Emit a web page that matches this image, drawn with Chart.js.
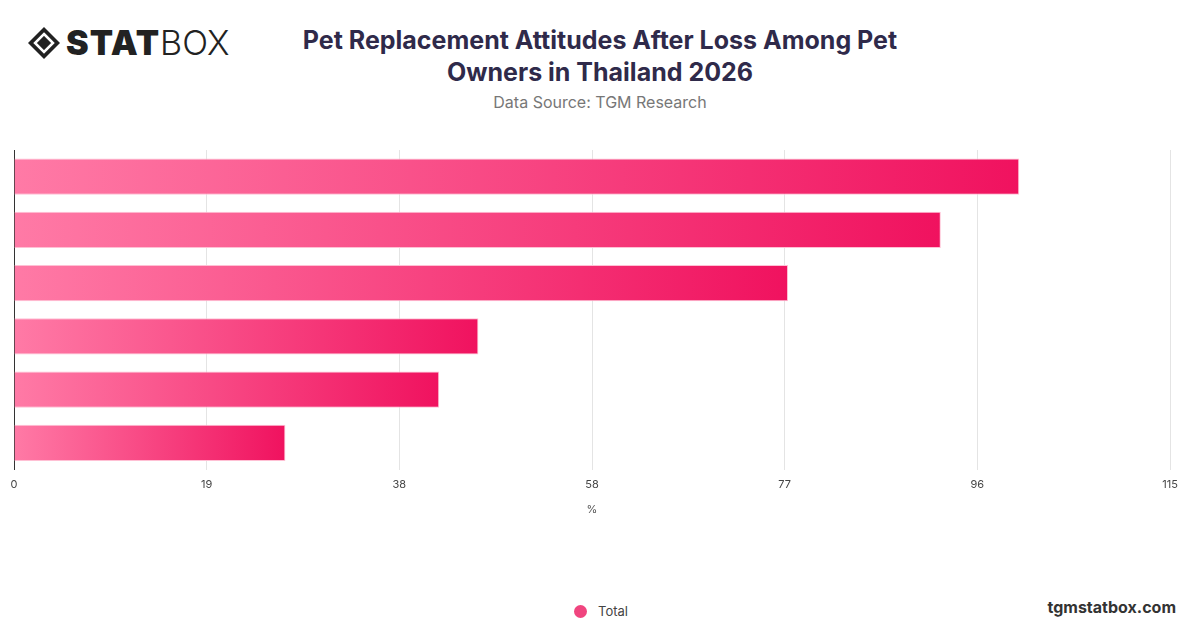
<!DOCTYPE html>
<html>
<head>
<meta charset="utf-8">
<script src="https://cdn.jsdelivr.net/npm/chart.js@4/dist/chart.umd.min.js"></script>
<style>
  body { margin: 0; width: 1200px; height: 628px; background: #fff; font-family: Inter, "Noto Sans", sans-serif; position: relative; overflow: hidden; }
  .logo { position: absolute; left: 26px; top: 22px; display: flex; align-items: center; color: #222; }
  .logo .b { font-weight: 900; font-size: 34px; letter-spacing: 1px; }
  .logo .l { font-weight: 300; font-size: 34px; }
  .title { position: absolute; left: 290px; width: 620px; top: 24px; text-align: center; font-size: 25px; font-weight: 700; color: #2f2a4a; line-height: 32px; }
  .src { position: absolute; left: 0; width: 1200px; top: 92px; text-align: center; font-size: 16px; color: #777; }
  #wrap { position: absolute; left: 0; top: 140px; width: 1200px; height: 380px; }
  .legend { position: absolute; top: 603px; left: 574px; font-size: 13px; color: #444; display: flex; align-items: center; }
  .legend i { width: 13px; height: 13px; border-radius: 50%; background: #f0457f; margin-right: 11px; display: inline-block; }
  .site { position: absolute; right: 24px; top: 597px; font-size: 16px; font-weight: 700; color: #333; }
</style>
</head>
<body>
<div class="logo">
  <svg width="36" height="36" viewBox="0 0 36 36"><path d="M18 2 L34 18 L18 34 L2 18 Z" fill="#222"/><path d="M18 9 L27 18 L18 27 L9 18 Z" fill="none" stroke="#fff" stroke-width="2.5"/></svg>
  <span class="b" style="margin-left:4px">STAT</span><span class="l">BOX</span>
</div>
<div class="title">Pet Replacement Attitudes After Loss Among Pet Owners in Thailand 2026</div>
<div class="src">Data Source: TGM Research</div>
<div id="wrap"><canvas id="c"></canvas></div>
<div class="legend"><i></i>Total</div>
<div class="site">tgmstatbox.com</div>
<script>
const categories = ["Response 1", "Response 2", "Response 3", "Response 4", "Response 5", "Response 6"];
const totalValues = [100, 92.2, 77, 46.2, 42.3, 27];
const axisMax = 115;
const tickCount = 6;

function barGradient(ctx) {
    const chart = ctx.chart;
    if (!chart.chartArea) return "#f0457f";
    const x = chart.scales.x;
    const x0 = x.getPixelForValue(0);
    const x1 = x.getPixelForValue(ctx.raw);
    const g = chart.ctx.createLinearGradient(x0, 0, Math.max(x1, x0 + 1), 0);
    g.addColorStop(0, "#ff7aa6");
    g.addColorStop(1, "#f0125f");
    return g;
}

new Chart(document.getElementById("c"), {
    type: "bar",
    data: {
        labels: categories,
        datasets: [{
            label: "Total",
            data: totalValues,
            backgroundColor: barGradient,
            borderColor: "#ffc0d4",
            borderWidth: 1,
            borderSkipped: "start",
            barPercentage: 0.68,
            categoryPercentage: 1
        }]
    },
    options: {
        indexAxis: "y",
        responsive: true,
        maintainAspectRatio: false,
        animation: false,
        layout: { padding: { left: 6, right: 30, top: 10 } },
        plugins: { legend: { display: false }, tooltip: { enabled: false } },
        scales: {
            x: {
                min: 0,
                max: axisMax,
                afterBuildTicks: axis => {
                    axis.ticks = [];
                    for (let i = 0; i <= tickCount; i++) axis.ticks.push({ value: axisMax * i / tickCount });
                },
                ticks: { color: "#444", font: { size: 11, family: "Inter" }, padding: 8, callback: v => Math.round(v) },
                grid: { color: "#e4e4e4", drawTicks: false },
                border: { display: false },
                title: { display: true, text: "%", color: "#555", font: { size: 11, family: "Inter" }, padding: { top: 4 } }
            },
            y: {
                ticks: { display: false },
                grid: { display: false },
                border: { display: true, color: "#333", width: 1 }
            }
        }
    }
});
</script>
</body>
</html>
